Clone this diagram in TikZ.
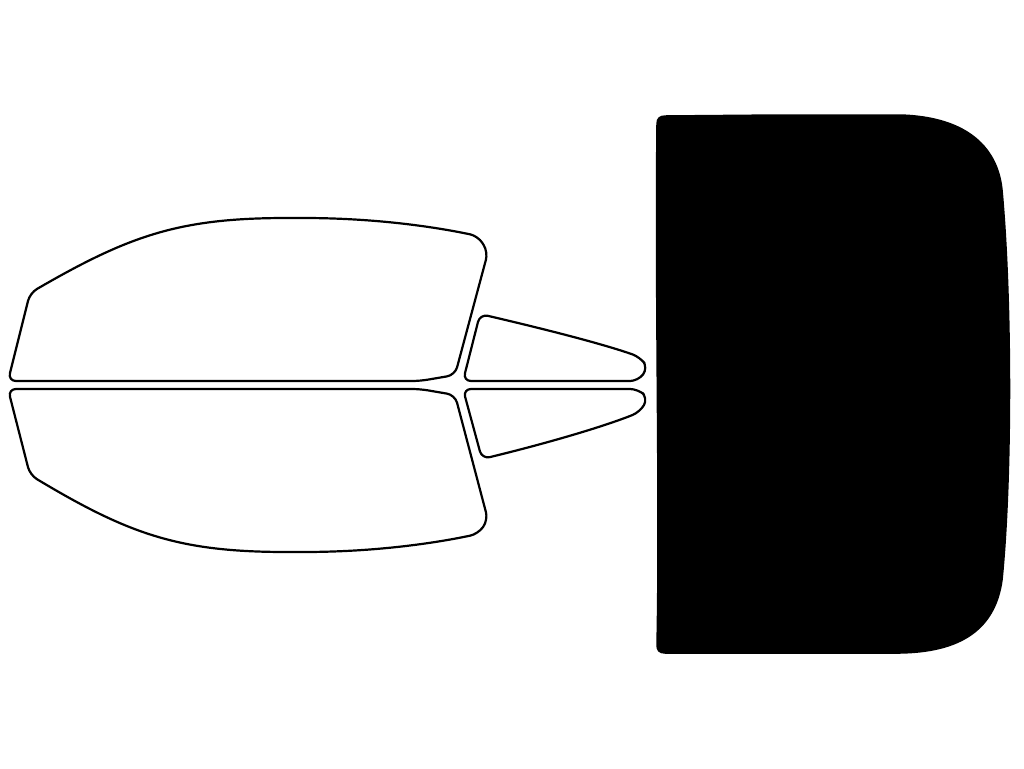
\documentclass[tikz,border=0pt]{standalone}
\begin{document}
\begin{tikzpicture}[x=1pt,y=-1pt,win/.style={draw=black,line width=2.2pt,fill=white,line join=round}]
\useasboundingbox (0,0) rectangle (1024,768);
% top-left window
\draw[win,rounded corners=8pt] (8,381) -- (30,293) .. controls (130,235) and (180,218) .. (295,218) .. controls (380,218) and (440,228) .. (478,236) -- (488,252) -- (455,375) -- (420,381) -- cycle;
% bottom-left window
\draw[win,rounded corners=8pt] (8,389) -- (420,389) -- (455,395) -- (488,520) -- (478,534) .. controls (440,542) and (380,552) .. (295,552) .. controls (180,552) and (130,535) .. (30,475) -- cycle;
% small top
\draw[win,rounded corners=8pt] (463,381) -- (480,314) .. controls (540,328) and (600,343) .. (640,357) -- (648,368) -- (638,381) -- cycle;
% small bottom
\draw[win,rounded corners=8pt] (463,389) -- (638,389) -- (648,398) -- (640,412) .. controls (600,428) and (540,445) .. (482,459) -- cycle;
% rear window (black)
\draw[line width=1.5pt,fill=black,draw=black,line join=round] (780,115) -- (900,115) .. controls (970,117) and (998,150) .. (1002,190) .. controls (1012,300) and (1012,480) .. (1002,580) .. controls (995,630) and (960,652) .. (900,653) -- (665,653) .. controls (659,653) and (657,650) .. (657,645) .. controls (660,500) and (655,300) .. (657,124) .. controls (657,118) and (660,116) .. (666,116) -- cycle;
\end{tikzpicture}
\end{document}
